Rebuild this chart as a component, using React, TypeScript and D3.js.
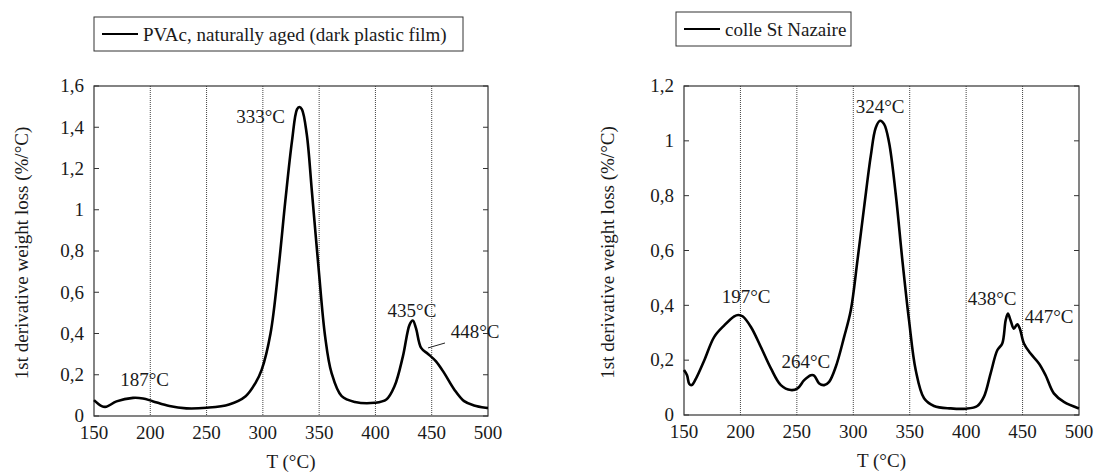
import React from "react";
import * as d3 from "d3";

// ---------- DATA ----------
const xTicks = [150, 200, 250, 300, 350, 400, 450, 500];
const gridTicks = [200, 250, 300, 350, 400, 450];
const leftYTicks = [0, 0.2, 0.4, 0.6, 0.8, 1, 1.2, 1.4, 1.6];
const rightYTicks = [0, 0.2, 0.4, 0.6, 0.8, 1, 1.2];

const leftName = "PVAc, naturally aged (dark plastic film)";
const rightName = "colle St Nazaire";

const leftT = [150, 156.8, 161, 170, 184.7, 193.5, 202, 217, 232, 250, 270, 284.7, 293.5, 299, 306.8, 314, 320, 325.9, 330.3, 332.4, 334.7, 339, 343.5, 349.4, 355.3, 361, 370, 381.8, 399.4, 409.7, 417, 424.4, 430.3, 433.2, 436, 440.6, 446.5, 453.8, 461, 470, 478.8, 487.6, 498, 500];
const leftV = [0.077, 0.048, 0.045, 0.071, 0.088, 0.085, 0.072, 0.048, 0.037, 0.04, 0.056, 0.096, 0.161, 0.225, 0.4, 0.72, 1.045, 1.334, 1.487, 1.498, 1.487, 1.366, 1.093, 0.723, 0.386, 0.209, 0.096, 0.068, 0.064, 0.08, 0.145, 0.289, 0.442, 0.463, 0.426, 0.33, 0.302, 0.265, 0.209, 0.129, 0.072, 0.051, 0.04, 0.039];

const rightT = [150, 152.7, 154.7, 156.8, 160.6, 168, 176.8, 185.7, 194.5, 198, 201.9, 209.3, 218.1, 227, 235.8, 244.7, 250.6, 256.5, 262.4, 265.3, 269.8, 274.2, 278.6, 284.5, 291.9, 297.8, 303.7, 309.6, 315.5, 319.9, 323.7, 327.3, 331.7, 337.6, 343.5, 349.4, 355.3, 362.7, 371.5, 386.3, 399.9, 409.9, 415.8, 421.7, 427.6, 432, 435, 437, 439.4, 442.3, 445.3, 447.6, 451.2, 457.1, 464.5, 470.4, 477.7, 486.6, 499.9];
const rightV = [0.164, 0.145, 0.113, 0.109, 0.133, 0.2, 0.285, 0.327, 0.36, 0.365, 0.36, 0.321, 0.248, 0.17, 0.109, 0.091, 0.097, 0.127, 0.145, 0.144, 0.115, 0.109, 0.121, 0.176, 0.285, 0.382, 0.564, 0.758, 0.945, 1.048, 1.073, 1.061, 0.994, 0.806, 0.564, 0.345, 0.164, 0.061, 0.033, 0.024, 0.023, 0.033, 0.067, 0.152, 0.236, 0.261, 0.345, 0.37, 0.345, 0.315, 0.331, 0.315, 0.261, 0.224, 0.188, 0.145, 0.079, 0.048, 0.024];

// peak labels: text, centre temperature, centre value
const leftLabels = ["187°C", "333°C", "435°C", "448°C"];
const leftLabelT = [195, 298, 432.5, 488.5];
const leftLabelV = [0.175, 1.45, 0.51, 0.41];

const rightLabels = ["197°C", "264°C", "324°C", "438°C", "447°C"];
const rightLabelT = [205, 258, 323.7, 423, 473.5];
const rightLabelV = [0.43, 0.193, 1.123, 0.423, 0.357];

// ---------- COMPONENT ----------
const FONT = "Liberation Serif, DejaVu Serif, Times New Roman, serif";
const TXT = "#1a1a1a";

type PanelProps = {
  x0: number; x1: number; y0: number; y1: number; yMax: number;
  yTicks: number[]; T: number[]; V: number[];
  labels: string[]; labelT: number[]; labelV: number[];
  legend: { x: number; y: number; w: number; h: number; name: string };
  yTitleX: number;
  leader?: boolean;
};

const tStyle: React.CSSProperties = { fontFamily: FONT, fontSize: 19, fill: TXT };

function Panel(p: PanelProps) {
  const x = d3.scaleLinear().domain([150, 500]).range([p.x0, p.x1]);
  const y = d3.scaleLinear().domain([0, p.yMax]).range([p.y1, p.y0]);
  const pts = p.T.map((t, i) => [t, p.V[i]] as [number, number]);
  const line = d3.line<[number, number]>()
    .x((d) => x(d[0]))
    .y((d) => y(d[1]))
    .curve(d3.curveCatmullRom.alpha(0.5));
  const fmt = (v: number) => String(Math.round(v * 10) / 10).replace(".", ",");
  const yMid = (p.y0 + p.y1) / 2;
  return (
    <g>
      {/* legend */}
      <rect x={p.legend.x} y={p.legend.y} width={p.legend.w} height={p.legend.h}
        fill="white" stroke="#333" strokeWidth={1} />
      <line x1={p.legend.x + 8} x2={p.legend.x + 44} y1={p.legend.y + p.legend.h / 2}
        y2={p.legend.y + p.legend.h / 2} stroke="#000" strokeWidth={2.2} />
      <text x={p.legend.x + 49} y={p.legend.y + p.legend.h / 2 + 6.5} style={tStyle}>{p.legend.name}</text>

      {/* grid */}
      {gridTicks.map((t) => (
        <line key={"g" + t} x1={x(t)} x2={x(t)} y1={p.y0} y2={p.y1}
          stroke="#444" strokeWidth={1} strokeDasharray="1,1" />
      ))}
      {/* y ticks both sides, inward */}
      {p.yTicks.map((v) => (
        <g key={"t" + v}>
          <line x1={p.x0} x2={p.x0 + 5} y1={y(v)} y2={y(v)} stroke="#333" />
          <line x1={p.x1 - 5} x2={p.x1} y1={y(v)} y2={y(v)} stroke="#333" />
          <text x={p.x0 - 10} y={y(v)} dy="0.33em" textAnchor="end" style={tStyle}>{fmt(v)}</text>
        </g>
      ))}
      {/* x tick labels */}
      {xTicks.map((t) => (
        <text key={"x" + t} x={x(t)} y={p.y1 + 23} textAnchor="middle" style={tStyle}>{t}</text>
      ))}
      {/* frame */}
      <rect x={p.x0} y={p.y0} width={p.x1 - p.x0} height={p.y1 - p.y0}
        fill="none" stroke="#333" strokeWidth={1.2} />
      {/* curve */}
      <path d={line(pts) || ""} fill="none" stroke="#000" strokeWidth={2.6}
        strokeLinejoin="round" />
      {/* peak labels */}
      {p.labels.map((s, i) => (
        <text key={"l" + i} x={x(p.labelT[i])} y={y(p.labelV[i])} dy="0.33em"
          textAnchor="middle" style={tStyle}>{s}</text>
      ))}
      {p.leader && (
        <line x1={x(446.7)} y1={y(0.33)} x2={x(461.8)} y2={y(0.354)} stroke="#222" strokeWidth={1} />
      )}
      {/* axis titles */}
      <text x={(p.x0 + p.x1) / 2} y={p.y1 + 52} textAnchor="middle" style={tStyle}>T (°C)</text>
      <text transform={`translate(${p.yTitleX},${yMid + 2}) rotate(-90)`} textAnchor="middle"
        dy="0.33em" style={tStyle}>
        1st derivative weight loss (%/°C)
      </text>
    </g>
  );
}

export default function App() {
  return (
    <svg width={1094} height={473} style={{ position: "absolute", left: 0, top: 0, background: "white" }}>
      <rect width={1094} height={473} fill="white" />
      <Panel x0={94} x1={488} y0={86} y1={416} yMax={1.6} yTicks={leftYTicks}
        T={leftT} V={leftV} labels={leftLabels} labelT={leftLabelT} labelV={leftLabelV}
        legend={{ x: 94, y: 17, w: 369, h: 34, name: leftName }} yTitleX={22} leader />
      <Panel x0={684} x1={1079} y0={86} y1={415} yMax={1.2} yTicks={rightYTicks}
        T={rightT} V={rightV} labels={rightLabels} labelT={rightLabelT} labelV={rightLabelV}
        legend={{ x: 676, y: 12, w: 175, h: 34, name: rightName }} yTitleX={608} />
    </svg>
  );
}
